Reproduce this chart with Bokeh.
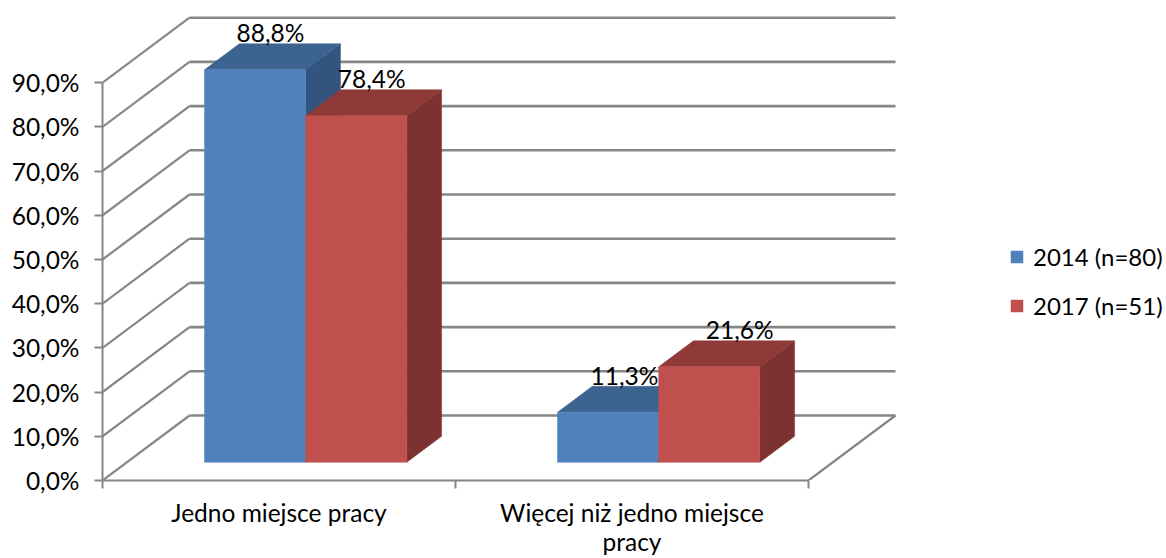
from bokeh.plotting import figure
from bokeh.models import (ColumnDataSource, FixedTicker, Legend, LegendItem, Range1d)
from bokeh.embed import file_html
from bokeh.resources import INLINE
from bokeh.core.properties import value

categories = ["Jedno miejsce pracy", "Więcej niż jedno miejsce\npracy"]
series_names = ["2014 (n=80)", "2017 (n=51)"]
values_2014 = [88.8, 11.3]
values_2017 = [78.4, 21.6]
y_ticks = [0, 10, 20, 30, 40, 50, 60, 70, 80, 90]
y_labels = ["0,0%", "10,0%", "20,0%", "30,0%", "40,0%", "50,0%", "60,0%", "70,0%", "80,0%", "90,0%"]
label_2014 = ["88,8%", "11,3%"]
label_2017 = ["78,4%", "21,6%"]

FONT = "Lato"
FS = "24.5px"
GRID = "#868686"

# oblique projection of the 3D chart box, in data units
DX, DY = 87 / 353, 65 / 4.42
BAR_D0, BAR_D1 = 0.28, 0.68
BAR_W, BAR_START = 0.2865, 0.22


def proj(x, y, d):
    return x + d * DX, y + d * DY


p = figure(width=1166, height=558, output_backend="svg", toolbar_location=None,
           x_range=Range1d(0, 1064 / 353), y_range=Range1d(0, 480 / 4.42),
           min_border_left=102, min_border_right=0, min_border_top=0, min_border_bottom=78,
           outline_line_color=None, background_fill_color="white", border_fill_color="white")
p.grid.visible = False

# axes
ya = p.yaxis[0]
ya.ticker = FixedTicker(ticks=y_ticks)
ya.bounds = (0, 90)
ya.major_label_overrides = {t: l for t, l in zip(y_ticks, y_labels)}
ya.major_label_text_font = FONT
ya.major_label_text_font_size = FS
ya.major_label_text_color = "black"
ya.major_label_standoff = 15
ya.major_tick_in = 0
ya.major_tick_out = 8
ya.major_tick_line_color = GRID
ya.major_tick_line_width = 2
ya.minor_tick_line_color = None
ya.axis_line_color = GRID
ya.axis_line_width = 2

xa = p.xaxis[0]
xa.ticker = FixedTicker(ticks=[0.5, 1.5], minor_ticks=[0, 1, 2])
xa.bounds = (0, 2)
xa.major_label_overrides = {0.5: categories[0], 1.5: categories[1]}
xa.major_label_text_font = FONT
xa.major_label_text_font_size = FS
xa.major_label_text_color = "black"
xa.major_label_text_line_height = 1.0
xa.major_label_standoff = 9
xa.major_tick_line_color = None
xa.minor_tick_in = 0
xa.minor_tick_out = 8
xa.minor_tick_line_color = GRID
xa.minor_tick_line_width = 2
xa.axis_line_color = GRID
xa.axis_line_width = 2

# walls: back gridlines, left-wall diagonals, floor right edge
back_x, back_y, side_x, side_y = [], [], [], []
for t in y_ticks:
    x0, y0 = proj(0, t, 1)
    x1, y1 = proj(2, t, 1)
    back_x.append([x0, x1]); back_y.append([y0, y1])
    side_x.append([0, x0]); side_y.append([t, y0])
side_x.append([2, proj(2, 0, 1)[0]]); side_y.append([0, proj(2, 0, 1)[1]])
p.multi_line(back_x, back_y, line_color=GRID, line_width=2.6)
p.multi_line(side_x, side_y, line_color=GRID, line_width=2.2)


def bars(vals, offset, front, top, side):
    fx, fy, tx, ty, sx, sy = [], [], [], [], [], []
    for i, v in enumerate(vals):
        a = i + BAR_START + offset * BAR_W
        b = a + BAR_W
        pts = lambda *q: [proj(*k) for k in q]
        f = pts((a, 0, BAR_D0), (b, 0, BAR_D0), (b, v, BAR_D0), (a, v, BAR_D0))
        t = pts((a, v, BAR_D0), (b, v, BAR_D0), (b, v, BAR_D1), (a, v, BAR_D1))
        s = pts((b, 0, BAR_D0), (b, 0, BAR_D1), (b, v, BAR_D1), (b, v, BAR_D0))
        fx.append([q[0] for q in f]); fy.append([q[1] for q in f])
        tx.append([q[0] for q in t]); ty.append([q[1] for q in t])
        sx.append([q[0] for q in s]); sy.append([q[1] for q in s])
    p.patches(sx, sy, fill_color=side, line_color=side, line_width=0.5)
    p.patches(tx, ty, fill_color=top, line_color=top, line_width=0.5)
    return p.patches(fx, fy, fill_color=front, line_color=front, line_width=0.5)


r1 = bars(values_2014, 0, "#4F81BD", "#3D6391", "#33547F")
r2 = bars(values_2017, 1, "#C0504D", "#8F3A38", "#7C3230")

# data labels at the centre of each bar's top face
for off, vals, labs, nudge in ((0, values_2014, label_2014, [-2, -1]),
                               (1, values_2017, label_2017, [-2, 13])):
    xs, ys = [], []
    for i, v in enumerate(vals):
        x, y = proj(i + BAR_START + (off + 0.5) * BAR_W, v, (BAR_D0 + BAR_D1) / 2)
        xs.append(x); ys.append(y)
    src = ColumnDataSource(dict(x=xs, y=ys, t=labs, dx=nudge))
    p.text("x", "y", text="t", source=src, text_align="center", text_baseline="middle",
           x_offset="dx", y_offset=-24, text_font=value(FONT), text_font_size=FS,
           text_color="black")

legend = Legend(items=[LegendItem(label=series_names[0], renderers=[r1]),
                       LegendItem(label=series_names[1], renderers=[r2])],
                location=(907, 160), border_line_color=None, background_fill_alpha=0,
                glyph_width=15, glyph_height=15, spacing=20, label_standoff=9,
                label_text_font=FONT, label_text_font_size="24px", label_text_color="black",
                margin=0, padding=4)
p.add_layout(legend, "center")

open("out.html", "w").write(file_html(p, INLINE))
